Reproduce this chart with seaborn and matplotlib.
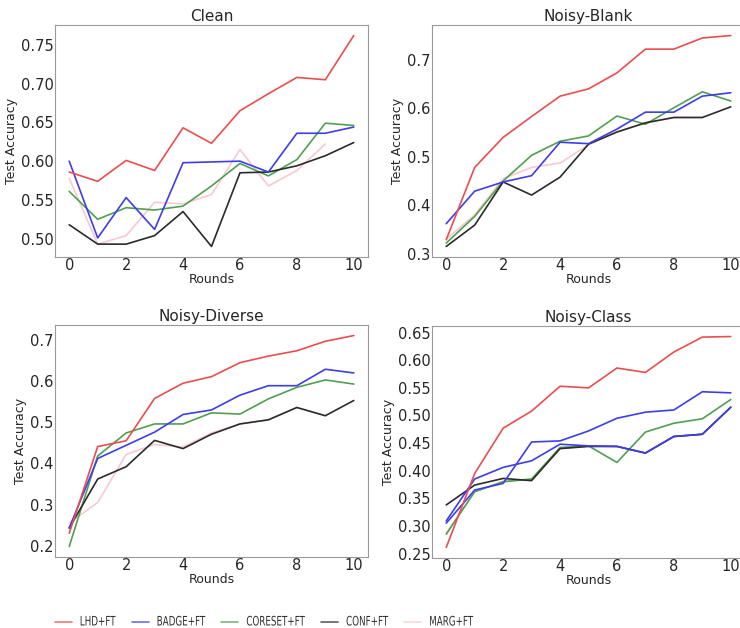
import numpy as np
import pandas as pd
import matplotlib
matplotlib.use('Agg')
import matplotlib.pyplot as plt
import matplotlib.patheffects as pe
from matplotlib.transforms import Affine2D
from matplotlib.ticker import MultipleLocator, FormatStrFormatter
import seaborn as sns

# values
rounds = list(range(11))
rounds_marg = list(range(10))

methods = ['LHD+FT', 'BADGE+FT', 'CORESET+FT', 'CONF+FT', 'MARG+FT']

# Clean
clean_lhd = [0.586, 0.574, 0.601, 0.588, 0.643, 0.623, 0.665, 0.687, 0.708, 0.705, 0.762]
clean_badge = [0.600, 0.501, 0.553, 0.512, 0.598, 0.599, 0.600, 0.586, 0.636, 0.636, 0.644]
clean_coreset = [0.561, 0.525, 0.540, 0.537, 0.542, 0.568, 0.597, 0.581, 0.602, 0.649, 0.646]
clean_conf = [0.518, 0.493, 0.493, 0.504, 0.535, 0.490, 0.585, 0.586, 0.594, 0.607, 0.624]
clean_marg = [0.578, 0.493, 0.504, 0.547, 0.545, 0.557, 0.615, 0.568, 0.588, 0.622]

# Noisy-Blank
blank_lhd = [0.329, 0.478, 0.540, 0.583, 0.625, 0.640, 0.673, 0.722, 0.722, 0.745, 0.750]
blank_badge = [0.362, 0.429, 0.448, 0.461, 0.530, 0.527, 0.557, 0.592, 0.592, 0.625, 0.632]
blank_coreset = [0.322, 0.377, 0.450, 0.503, 0.532, 0.543, 0.584, 0.567, 0.601, 0.634, 0.615]
blank_conf = [0.315, 0.359, 0.448, 0.421, 0.458, 0.526, 0.551, 0.570, 0.581, 0.581, 0.603]
blank_marg = [0.330, 0.380, 0.455, 0.478, 0.487, 0.525, 0.551, 0.570, 0.581, 0.581]

# Noisy-Diverse
diverse_lhd = [0.230, 0.441, 0.455, 0.558, 0.595, 0.611, 0.645, 0.661, 0.674, 0.697, 0.711]
diverse_badge = [0.243, 0.412, 0.444, 0.476, 0.519, 0.530, 0.566, 0.589, 0.589, 0.629, 0.620]
diverse_coreset = [0.198, 0.418, 0.474, 0.496, 0.496, 0.523, 0.520, 0.557, 0.585, 0.603, 0.593]
diverse_conf = [0.243, 0.362, 0.392, 0.456, 0.436, 0.471, 0.496, 0.506, 0.536, 0.516, 0.553]
diverse_marg = [0.255, 0.305, 0.422, 0.446, 0.440, 0.474, 0.496, 0.506, 0.536, 0.516]

# Noisy-Class
class_lhd = [0.261, 0.395, 0.477, 0.508, 0.553, 0.550, 0.586, 0.578, 0.615, 0.642, 0.643]
class_badge = [0.305, 0.365, 0.377, 0.452, 0.454, 0.472, 0.495, 0.506, 0.510, 0.543, 0.541]
class_coreset = [0.285, 0.362, 0.380, 0.385, 0.442, 0.445, 0.415, 0.470, 0.486, 0.494, 0.529]
class_conf = [0.338, 0.374, 0.386, 0.382, 0.440, 0.444, 0.444, 0.432, 0.462, 0.466, 0.515]
class_marg = [0.287, 0.362, 0.381, 0.384, 0.441, 0.444, 0.444, 0.432, 0.462, 0.466]
# second blue curve that shows up in this panel only
class_badge_b = [0.309, 0.385, 0.406, 0.418, 0.448, 0.445, 0.444, 0.432, 0.462, 0.466, 0.515]

titles = ['Clean', 'Noisy-Blank', 'Noisy-Diverse', 'Noisy-Class']
panels = [
    [clean_lhd, clean_badge, clean_coreset, clean_conf, clean_marg],
    [blank_lhd, blank_badge, blank_coreset, blank_conf, blank_marg],
    [diverse_lhd, diverse_badge, diverse_coreset, diverse_conf, diverse_marg],
    [class_lhd, class_badge, class_coreset, class_conf, class_marg],
]

colors = {'LHD+FT': '#ea4d4f', 'BADGE+FT': '#3d3dea', 'CORESET+FT': '#519f51',
          'CONF+FT': '#2b2b2b', 'MARG+FT': '#f7c9d0'}
zorders = {'LHD+FT': 5, 'BADGE+FT': 4, 'CORESET+FT': 3, 'CONF+FT': 3.5, 'MARG+FT': 1}


class TallText(pe.AbstractPathEffect):
    # the legend in the reference uses a narrow, tall face: stretch glyphs upward
    def __init__(self, sy):
        super().__init__()
        self.sy = sy

    def draw_path(self, renderer, gc, tpath, affine, rgbFace=None):
        m = affine.get_matrix().copy()
        m[1, 0] *= self.sy
        m[1, 1] *= self.sy
        renderer.draw_path(gc, tpath, Affine2D(m), rgbFace)


sns.set_style('white')
plt.rcParams['font.family'] = ['DejaVu Sans']
plt.rcParams['text.color'] = '#262626'

fig = plt.figure(figsize=(7.4, 6.28), dpi=100)
W, H = 740, 628
boxes = [(55, 25), (432, 25), (55, 325), (432, 326)]
aw, ah = 313, 232
ysteps = [0.05, 0.1, 0.1, 0.05]
yfmts = ['%.2f', '%.1f', '%.1f', '%.2f']

for i, (title, series) in enumerate(zip(titles, panels)):
    x0, y0 = boxes[i]
    ax = fig.add_axes([x0 / W, 1 - (y0 + ah) / H, aw / W, ah / H])
    for name, vals in zip(methods, series):
        xs = rounds if len(vals) == 11 else rounds_marg
        sns.lineplot(x=xs, y=vals, ax=ax, color=colors[name], linewidth=1.2,
                     zorder=zorders[name], label=name, legend=False)
    if title == 'Noisy-Class':
        sns.lineplot(x=rounds, y=class_badge_b, ax=ax, color=colors['BADGE+FT'],
                     linewidth=1.2, zorder=3.8, legend=False)
    ax.set_title(title, fontsize=11, pad=3)
    ax.set_xlabel('Rounds', fontsize=9, labelpad=0)
    ax.set_ylabel('Test Accuracy', fontsize=9, labelpad=2)
    ax.xaxis.set_major_locator(MultipleLocator(2))
    ax.yaxis.set_major_locator(MultipleLocator(ysteps[i]))
    ax.yaxis.set_major_formatter(FormatStrFormatter(yfmts[i]))
    ax.tick_params(labelsize=10.5, pad=1, length=0)
    for sp in ax.spines.values():
        sp.set_color('#999999')
        sp.set_linewidth(0.8)
    if i == 0:
        handles, labels = ax.get_legend_handles_labels()

leg = fig.legend(handles, labels, loc='center left', bbox_to_anchor=(47 / W, 1 - 623 / H),
                 ncol=5, frameon=False, handlelength=1.95, handletextpad=0.9,
                 columnspacing=1.85, fontsize=6.3)
for t in leg.get_texts():
    t.set_path_effects([TallText(1.5)])
    t.set_color('#333333')
for h in leg.get_lines():
    h.set_alpha(0.75)

fig.savefig('out.png', dpi=100)
